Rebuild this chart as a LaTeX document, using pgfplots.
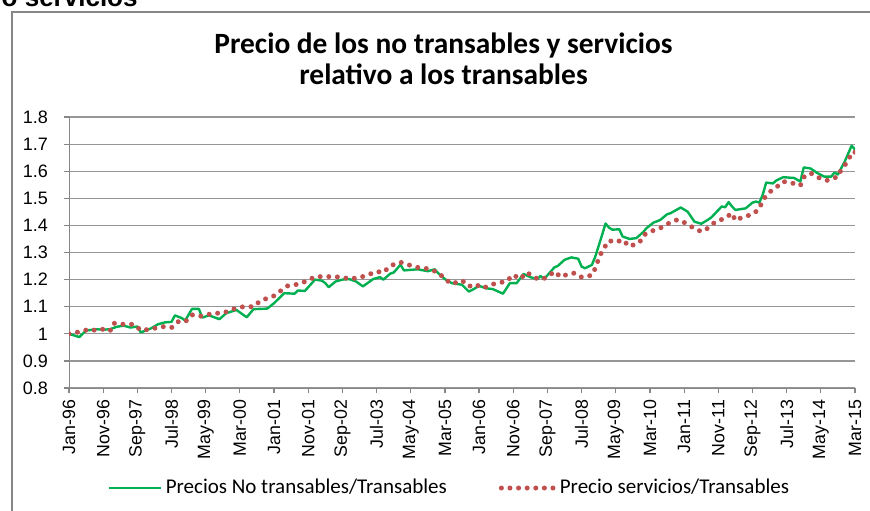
\documentclass[border=0pt]{standalone}
\usepackage{fontspec}
\setmainfont{Liberation Sans}
\newfontfamily\calibri{Carlito}
\usepackage{pgfplots}
\pgfplotsset{compat=1.18}
\definecolor{ngreen}{RGB}{0,176,80}
\definecolor{sred}{RGB}{192,80,77}
\definecolor{gridc}{RGB}{150,150,150}
\definecolor{framec}{RGB}{134,134,134}
\begin{document}
\begin{tikzpicture}
\useasboundingbox (0,0) rectangle (435pt,255pt);
\begin{axis}[
  at={(34.5pt,61pt)}, anchor=south west,
  width=393pt, height=135.5pt, scale only axis,
  xmin=0, xmax=230, ymin=0.8, ymax=1.8,
  xtick={0,10,...,230},
  xticklabels={Jan-96,Nov-96,Sep-97,Jul-98,May-99,Mar-00,Jan-01,Nov-01,Sep-02,Jul-03,May-04,Mar-05,Jan-06,Nov-06,Sep-07,Jul-08,May-09,Mar-10,Jan-11,Nov-11,Sep-12,Jul-13,May-14,Mar-15},
  ytick={0.8,0.9,1,1.1,1.2,1.3,1.4,1.5,1.6,1.7,1.8},
  axis x line*=bottom, axis y line*=left,
  axis line style={framec,-},
  tick style={framec, line width=0.6pt},
  tick align=outside, major tick length=2.5pt,
  ymajorgrids, grid style={gridc, line width=0.6pt},
  /pgf/number format/assume math mode=true,
  xticklabel style={rotate=90, anchor=east, font=\fontsize{8.9}{10}\selectfont},
  yticklabel style={font=\fontsize{9}{10}\selectfont, xshift=-4.5pt},
  legend style={at={(0.485,-0.369)}, anchor=center, draw=none, fill=none,
    legend columns=2, font=\calibri\fontsize{10.5}{12}\selectfont,
    /tikz/every even column/.append style={column sep=24pt}},
  legend image code/.code={\draw[#1] (0pt,0pt) -- (26pt,0pt);},
]
\addplot[ngreen, line width=1.2pt, line join=round] table {
x y
0 1.000
2 0.992
3 0.988
5 1.012
8 1.017
10 1.015
12 1.017
14 1.026
16 1.030
18 1.023
20 1.027
21 1.005
24 1.020
26 1.035
28 1.042
30 1.044
31 1.068
33 1.058
34 1.049
36 1.092
38 1.092
39 1.060
41 1.068
44 1.054
46 1.076
49 1.088
52 1.061
54 1.091
58 1.093
60 1.113
63 1.150
66 1.148
67 1.160
69 1.158
72 1.200
74 1.196
75 1.187
76 1.172
78 1.193
80 1.200
82 1.202
84 1.193
86 1.175
89 1.202
91 1.209
92 1.200
94 1.222
95 1.226
97 1.255
98 1.234
100 1.236
102 1.238
105 1.231
107 1.238
108 1.224
110 1.202
112 1.187
115 1.181
117 1.156
118 1.162
120 1.177
122 1.168
124 1.165
127 1.148
129 1.187
131 1.187
133 1.221
135 1.209
137 1.202
138 1.213
139 1.202
141 1.230
142 1.245
143 1.250
145 1.273
147 1.282
149 1.277
150 1.248
151 1.242
153 1.254
154 1.285
156 1.365
157 1.407
158 1.392
159 1.384
161 1.386
162 1.359
164 1.350
166 1.353
168 1.375
169 1.390
171 1.410
173 1.420
175 1.441
176 1.445
179 1.466
181 1.451
183 1.414
185 1.406
187 1.421
188 1.430
191 1.470
192 1.467
193 1.486
194 1.470
195 1.457
198 1.463
200 1.484
201 1.488
202 1.484
203 1.513
204 1.558
206 1.555
207 1.566
209 1.578
211 1.576
212 1.576
214 1.562
215 1.614
217 1.610
219 1.593
221 1.580
223 1.580
224 1.595
225 1.588
227 1.636
228 1.665
229 1.694
230 1.680
};
\addlegendentry{Precios No transables/Transables}
\addplot[sred, line width=2.5pt, dash pattern=on 0pt off 4.3pt, line cap=round] table {
x y
0 1.000
3 1.007
6 1.017
8 1.012
10 1.017
12 1.010
13 1.039
16 1.035
19 1.035
21 1.013
24 1.017
27 1.027
30 1.023
32 1.045
34 1.044
36 1.070
38 1.064
40 1.068
42 1.076
45 1.076
48 1.091
51 1.100
54 1.100
56 1.122
58 1.131
60 1.140
62 1.159
64 1.177
67 1.183
70 1.197
72 1.211
75 1.211
77 1.211
80 1.209
82 1.202
85 1.208
87 1.215
90 1.230
92 1.226
94 1.251
97 1.264
100 1.252
102 1.245
105 1.240
108 1.227
110 1.202
112 1.184
115 1.197
117 1.175
119 1.183
121 1.168
124 1.183
126 1.189
128 1.193
130 1.218
132 1.202
134 1.227
136 1.208
138 1.200
140 1.209
142 1.230
144 1.209
146 1.221
148 1.224
150 1.209
153 1.216
154 1.242
155 1.277
156 1.306
158 1.344
160 1.338
162 1.347
164 1.322
167 1.338
168 1.363
170 1.377
173 1.390
175 1.405
178 1.421
180 1.411
182 1.396
185 1.377
187 1.390
189 1.412
192 1.427
194 1.445
195 1.418
197 1.430
200 1.441
202 1.461
203 1.494
205 1.523
207 1.541
209 1.562
212 1.555
214 1.547
215 1.578
217 1.593
220 1.572
222 1.566
225 1.580
226 1.607
228 1.638
229 1.670
230 1.670
};
\addlegendentry{Precio servicios/Transables}
\end{axis}
\node[align=center, font=\calibri\bfseries\fontsize{14.7}{15.5}\selectfont] at (221.75pt,225.5pt) {Precio de los no transables y servicios\\relativo a los transables};
\draw[framec, line width=0.7pt] (6pt,-2pt) -- (6pt,249pt) -- (440pt,249pt);
\node[anchor=base east, font=\bfseries\fontsize{13}{14}\selectfont, inner sep=0pt] at (69pt,251.5pt) {o servicios};
\end{tikzpicture}
\end{document}
